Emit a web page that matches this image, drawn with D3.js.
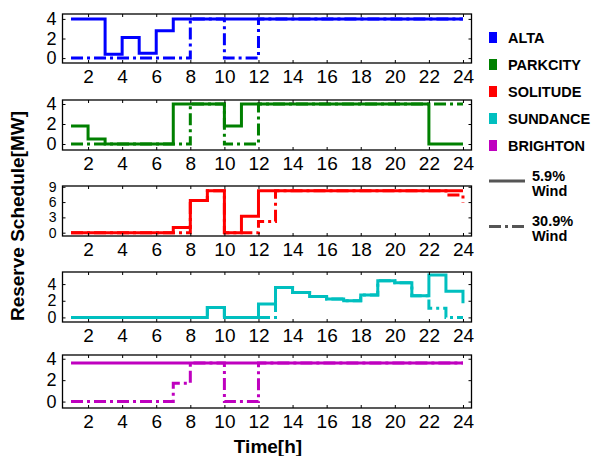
<!DOCTYPE html>
<html>
<head>
<meta charset="utf-8">
<script src="https://cdn.jsdelivr.net/npm/d3@7"></script>
<style>
  body { margin: 0; background: #fff; }
  svg { display: block; font-family: "Liberation Sans", Arial, sans-serif; }
</style>
</head>
<body>
<div id="chart"></div>
<script>
// hours 1..24, values (MW)
const hours = [1, 2, 3, 4, 5, 6, 7, 8, 9, 10, 11, 12, 13, 14, 15, 16, 17, 18, 19, 20, 21, 22, 23, 24];
const xTicks = [2, 4, 6, 8, 10, 12, 14, 16, 18, 20, 22, 24];

const altaLow   = [4, 4, 0.4, 2.1, 0.5, 2.8, 4, 4, 4, 4, 4, 4, 4, 4, 4, 4, 4, 4, 4, 4, 4, 4, 4, 4];
const altaHigh  = [0, 0, 0, 0, 0, 0, 0, 4, 4, 0, 0, 4, 4, 4, 4, 4, 4, 4, 4, 4, 4, 4, 4, 4];
const parkLow   = [1.8, 0.5, 0, 0, 0, 0, 4, 4, 4, 1.8, 4, 4, 4, 4, 4, 4, 4, 4, 4, 4, 4, 0, 0, 0];
const parkHigh  = [0, 0, 0, 0, 0, 0, 0, 4, 4, 0, 0, 4, 4, 4, 4, 4, 4, 4, 4, 4, 4, 4, 4, 4];
const soliLow   = [0, 0, 0, 0, 0, 0, 1, 6.3, 8.2, 0, 3.2, 8.2, 8.2, 8.2, 8.2, 8.2, 8.2, 8.2, 8.2, 8.2, 8.2, 8.2, 8.2, 8.2];
const soliHigh  = [0, 0, 0, 0, 0, 0, 0, 6.3, 8.2, 0, 0, 2.2, 8.2, 8.2, 8.2, 8.2, 8.2, 8.2, 8.2, 8.2, 8.2, 8.2, 7.4, 5.8];
const sundLow   = [0, 0, 0, 0, 0, 0, 0, 0, 1.2, 0, 0, 1.6, 3.6, 3.0, 2.5, 2.2, 2.0, 2.7, 4.4, 4.15, 2.6, 5.1, 3.15, 1.7];
const sundHigh  = [0, 0, 0, 0, 0, 0, 0, 0, 1.2, 0, 0, 0, 3.6, 3.0, 2.5, 2.2, 2.0, 2.7, 4.4, 4.15, 2.6, 1.1, 0, 0];
const brigLow   = [3.6, 3.6, 3.6, 3.6, 3.6, 3.6, 3.6, 3.6, 3.6, 3.6, 3.6, 3.6, 3.6, 3.6, 3.6, 3.6, 3.6, 3.6, 3.6, 3.6, 3.6, 3.6, 3.6, 3.6];
const brigHigh  = [0, 0, 0, 0, 0, 0, 1.7, 3.6, 3.6, 0, 0, 3.6, 3.6, 3.6, 3.6, 3.6, 3.6, 3.6, 3.6, 3.6, 3.6, 3.6, 3.6, 3.6];

const names  = ['ALTA', 'PARKCITY', 'SOLITUDE', 'SUNDANCE', 'BRIGHTON'];
const colors = ['#0000ff', '#008000', '#ff0000', '#00bfbf', '#bf00bf'];
const lowWind  = [altaLow, parkLow, soliLow, sundLow, brigLow];
const highWind = [altaHigh, parkHigh, soliHigh, sundHigh, brigHigh];
const yTicks = [[0, 2, 4], [0, 2, 4], [0, 3, 6, 9], [0, 2, 4], [0, 2, 4]];

// panel layout
const panels = [
    { top: 14,  bottom: 63,  domain: [-0.5, 4.5],   labelSize: 18 },
    { top: 100, bottom: 150, domain: [-0.6, 4.4],   labelSize: 18 },
    { top: 186, bottom: 236, domain: [-0.65, 9.15], labelSize: 14 },
    { top: 272, bottom: 322, domain: [-0.55, 5.45], labelSize: 16 },
    { top: 355, bottom: 408, domain: [-0.6, 4.35],  labelSize: 18 }
];
const left = 62.5, right = 471.5;
const dashDot = '12,4,3,4';

const svg = d3.select('#chart').append('svg')
    .attr('width', 594)
    .attr('height', 456);

const x = d3.scaleLinear().domain([0.5, 24.5]).range([left, right]);

panels.forEach((p, i) => {
    const y = d3.scaleLinear().domain(p.domain).range([p.bottom, p.top]);
    const g = svg.append('g');

    const line = d3.line()
        .x((d, j) => x(hours[j]))
        .y(d => y(d))
        .curve(d3.curveStepAfter);

    g.append('path')
        .attr('d', line(highWind[i]))
        .attr('fill', 'none')
        .attr('stroke', colors[i])
        .attr('stroke-width', 3)
        .attr('stroke-dasharray', dashDot);

    g.append('path')
        .attr('d', line(lowWind[i]))
        .attr('fill', 'none')
        .attr('stroke', colors[i])
        .attr('stroke-width', 3);

    // box
    g.append('rect')
        .attr('x', left).attr('y', p.top)
        .attr('width', right - left).attr('height', p.bottom - p.top)
        .attr('fill', 'none')
        .attr('stroke', '#000')
        .attr('stroke-width', 1.3);

    // inward ticks
    const bottomAxis = d3.axisBottom(x).tickValues(xTicks).tickSizeInner(-3).tickSizeOuter(0).tickPadding(6);
    const ax = g.append('g').attr('transform', `translate(0,${p.bottom})`).call(bottomAxis);
    ax.select('.domain').remove();
    ax.selectAll('text').attr('font-size', 19).attr('fill', '#000').attr('dy', '0.75em');

    const topAxis = d3.axisTop(x).tickValues(xTicks).tickSizeInner(-3).tickSizeOuter(0).tickFormat('');
    const at = g.append('g').attr('transform', `translate(0,${p.top})`).call(topAxis);
    at.select('.domain').remove();

    const leftAxis = d3.axisLeft(y).tickValues(yTicks[i]).tickFormat(d3.format('d'))
        .tickSizeInner(-3).tickSizeOuter(0).tickPadding(6);
    const ay = g.append('g').attr('transform', `translate(${left},0)`).call(leftAxis);
    ay.select('.domain').remove();
    ay.selectAll('text').attr('font-size', p.labelSize).attr('fill', '#000');

    const rightAxis = d3.axisRight(y).tickValues(yTicks[i]).tickSizeInner(-3).tickSizeOuter(0).tickFormat('');
    const ar = g.append('g').attr('transform', `translate(${right},0)`).call(rightAxis);
    ar.select('.domain').remove();
});

// axis titles
svg.append('text')
    .attr('x', 268).attr('y', 453)
    .attr('text-anchor', 'middle')
    .attr('font-size', 19)
    .attr('font-weight', 'bold')
    .text('Time[h]');

svg.append('text')
    .attr('transform', 'translate(24,216) rotate(-90)')
    .attr('text-anchor', 'middle')
    .attr('font-size', 19)
    .attr('font-weight', 'bold')
    .text('Reserve Schedule[MW]');

// legend
const legend = svg.append('g');
names.forEach((n, i) => {
    const cy = 37.5 + i * 27;
    legend.append('rect')
        .attr('x', 489).attr('y', cy - 5.5)
        .attr('width', 8).attr('height', 11)
        .attr('fill', colors[i]);
    legend.append('text')
        .attr('x', 508).attr('y', cy + 5)
        .attr('font-size', 14.5)
        .attr('font-weight', 'bold')
        .text(n);
});

const windLabels = [['5.9%', 'Wind'], ['30.9%', 'Wind']];
windLabels.forEach((lbl, i) => {
    const ly = 181 + i * 45.5;
    legend.append('line')
        .attr('x1', 489).attr('x2', 525)
        .attr('y1', ly).attr('y2', ly)
        .attr('stroke', '#555')
        .attr('stroke-width', 3)
        .attr('stroke-dasharray', i === 1 ? dashDot : null);
    legend.append('text')
        .attr('x', 532).attr('y', ly - 0.5)
        .attr('font-size', 14.5)
        .attr('font-weight', 'bold')
        .text(lbl[0]);
    legend.append('text')
        .attr('x', 532).attr('y', ly + 14.5)
        .attr('font-size', 14.5)
        .attr('font-weight', 'bold')
        .text(lbl[1]);
});
</script>
</body>
</html>
